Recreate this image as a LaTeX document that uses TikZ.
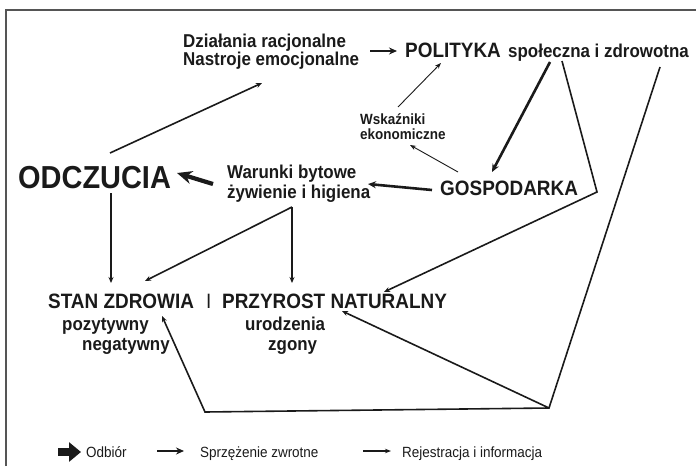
\documentclass[tikz,border=0pt]{standalone}
\usepackage{fontspec}
\setmainfont{Liberation Sans}[FakeStretch=0.91]
\usetikzlibrary{arrows.meta}
\definecolor{zdink}{HTML}{1A1A1A}
\definecolor{zdframe}{HTML}{555555}
\tikzset{
  zd text/.style={inner sep=0pt, anchor=base west, text=zdink},
  zd mid/.style={zd text, font=\bfseries\fontsize{18.6}{22}\selectfont},
  zd big/.style={zd text, font=\bfseries\fontsize{20.8}{24}\selectfont},
  zd huge/.style={zd text, font=\bfseries\fontsize{31.8}{36}\selectfont},
  zd small/.style={zd text, font=\bfseries\fontsize{14.8}{17}\selectfont},
  zd legend/.style={zd text, font=\fontsize{14.8}{17}\selectfont},
  zd info/.style={-{Stealth[length=6pt,width=5pt]}, line width=1.6pt, draw=zdink},
  zd thin/.style={-{Stealth[length=6pt,width=4.5pt]}, line width=0.9pt, draw=zdink},
  zd loop/.style={-{Stealth[length=8pt,width=7pt]}, line width=2.6pt, draw=zdink},
  zd heavy/.style={-{Stealth[length=15pt,width=13pt]}, line width=4.2pt, draw=zdink}
}
\begin{document}
\begin{tikzpicture}[x=1pt, y=-1pt]
  \useasboundingbox (0,0) rectangle (696,466);
  \draw[zdframe, line width=1.4pt] (6,466) -- (6,10) -- (696,10);

  % upper row
  \node[zd mid] (dzialania) at (183,47) {Działania racjonalne};
  \node[zd mid] (nastroje) at (183,65) {Nastroje emocjonalne};
  \node[zd big] (polityka) at (405,57) {POLITYKA};
  \node[zd mid] (spoleczna) at (508,57) {społeczna i zdrowotna};
  \node[zd small] (wskazniki) at (360,124) {Wskaźniki};
  \node[zd small] (ekonom) at (360,139) {ekonomiczne};

  % middle row
  \node[zd huge] (odczucia) at (18,188) {ODCZUCIA};
  \node[zd mid] (warunki) at (227,178) {Warunki bytowe};
  \node[zd mid] (zywienie) at (227,198) {żywienie i higiena};
  \node[zd big] (gospodarka) at (440,195) {GOSPODARKA};

  % lower row
  \node[zd big] (stan) at (48,308) {STAN ZDROWIA};
  \node[zd text, font=\fontsize{20.8}{24}\selectfont] (sep) at (206,308) {I};
  \node[zd big] (przyrost) at (222,308) {PRZYROST NATURALNY};
  \node[zd mid] (pozyt) at (62,330) {pozytywny};
  \node[zd mid] (negat) at (82,350) {negatywny};
  \node[zd mid] (urodz) at (245,330) {urodzenia};
  \node[zd mid] (zgony) at (268,350) {zgony};

  % connector points
  \coordinate (odcz-up) at (110,153);
  \coordinate (dzial-in) at (262,83);
  \coordinate (odcz-dn) at (111,193);
  \coordinate (stan-in) at (111,283);
  \coordinate (war-out) at (213,184);
  \coordinate (odcz-in) at (177,173);
  \coordinate (gosp-out) at (432,190);
  \coordinate (zyw-in) at (368,184);
  \coordinate (pol-out) at (550,62);
  \coordinate (gosp-in) at (492,172);
  \coordinate (gosp-up) at (458,172);
  \coordinate (wsk-in) at (410,145);
  \coordinate (wsk-out) at (398,107);
  \coordinate (pol-in) at (441,63);
  \coordinate (nast-out) at (370,51);
  \coordinate (pol-left) at (397,51);
  \coordinate (pol-ret) at (562,61);
  \coordinate (gosp-corner) at (597,192);
  \coordinate (nat-in) at (384,292);
  \coordinate (zdr-out) at (660,67);
  \coordinate (low-corner) at (549,408);
  \coordinate (low-left) at (205,412);
  \coordinate (stan-in2) at (162,316);
  \coordinate (nat-in2) at (342,311);
  \coordinate (zyw-top) at (292,207);
  \coordinate (stan-in3) at (145,281);
  \coordinate (przy-in) at (292,283);

  % connectors
  \draw[zd info] (odcz-up) -- (dzial-in);
  \draw[zd loop] (nast-out) -- (pol-left);
  \draw[zd heavy] (war-out) -- (odcz-in);
  \draw[zd loop] (gosp-out) -- (zyw-in);
  \draw[zd loop] (pol-out) -- (gosp-in);
  \draw[zd thin] (gosp-up) -- (wsk-in);
  \draw[zd thin] (wsk-out) -- (pol-in);
  \draw[zd info] (pol-ret) -- (gosp-corner) -- (nat-in);
  \draw[zd info] (zdr-out) -- (low-corner) -- (low-left) -- (stan-in2);
  \draw[zd info] (low-corner) -- (nat-in2);
  \draw[zd info] (odcz-dn) -- (stan-in);
  \draw[zd info] (zyw-top) -- (stan-in3);
  \draw[zd info] (zyw-top) -- (przy-in);

  % legend
  \coordinate (key1a) at (58,452);
  \coordinate (key1b) at (81,452);
  \draw[-{Triangle[length=12pt,width=19pt]}, line width=8pt, zdink] (key1a) -- (key1b);
  \node[zd legend] (odbior) at (86,457) {Odbiór};
  \coordinate (key2a) at (157,451);
  \coordinate (key2b) at (184,451);
  \draw[zd loop] (key2a) -- (key2b);
  \node[zd legend] (sprzez) at (200,457) {Sprzężenie zwrotne};
  \coordinate (key3a) at (363,451);
  \coordinate (key3b) at (391,451);
  \draw[zd thin, line width=1.2pt] (key3a) -- (key3b);
  \node[zd legend] (rejestr) at (402,457) {Rejestracja i informacja};
\end{tikzpicture}
\end{document}
